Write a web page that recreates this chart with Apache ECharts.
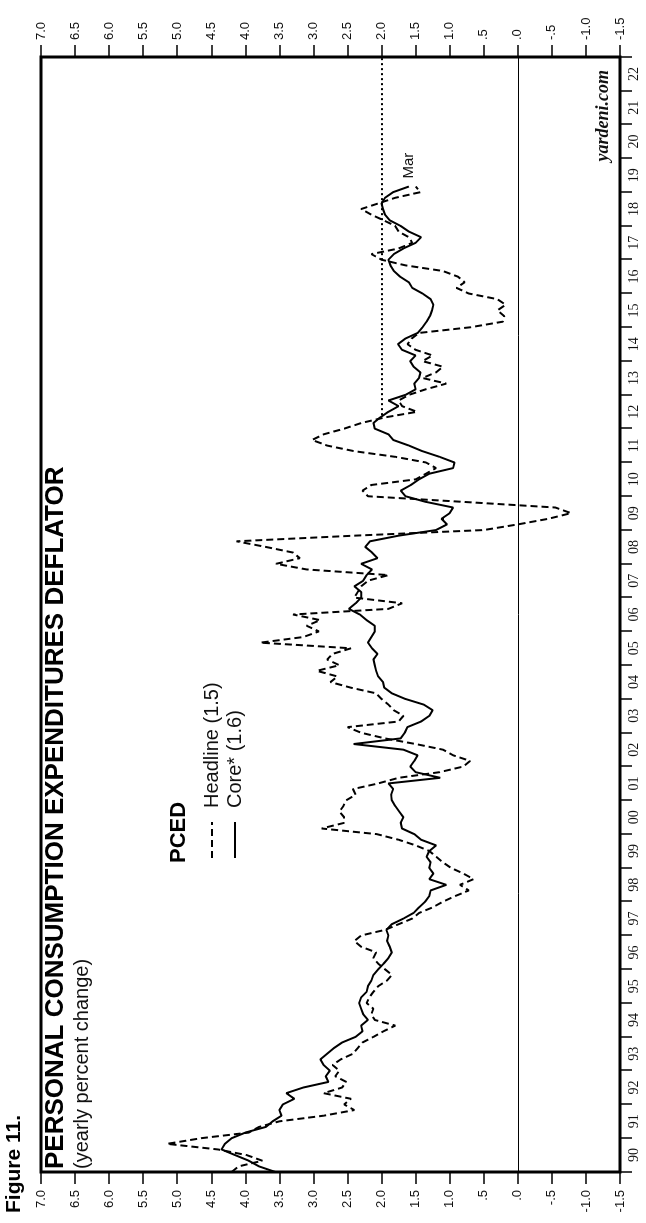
<!DOCTYPE html>
<html>
<head>
<meta charset="utf-8">
<title>PCED</title>
<script src="https://cdn.jsdelivr.net/npm/echarts@6/dist/echarts.min.js"></script>
<style>
  html, body { margin: 0; padding: 0; background: #fff; }
  #page { position: relative; width: 646px; height: 1223px; overflow: hidden; }
  /* chart is drawn landscape and turned a quarter to the left, like the scanned page */
  #chart {
    position: absolute; left: 0; top: 0;
    width: 1223px; height: 646px;
    transform-origin: 0 0;
    transform: translateY(1223px) rotate(-90deg);
  }
</style>
</head>
<body>
<div id="page"><div id="chart"></div></div>
<script>
// first reading is Jan 1990, then one every second month up to Mar 2019
const startYear = 1990;
const stepsPerYear = 6;

const yearLabels = ['90', '91', '92', '93', '94', '95', '96', '97', '98', '99',
  '00', '01', '02', '03', '04', '05', '06', '07', '08', '09', '10', '11',
  '12', '13', '14', '15', '16', '17', '18', '19', '20', '21', '22'];

const headline = [
  4.2, 4.1, 3.75, 3.98, 4.4, 5.15,
  4.65, 3.95, 3.8, 3.5, 2.85, 2.4,
  2.55, 2.45, 2.85, 2.58, 2.52, 2.68,
  2.62, 2.72, 2.6, 2.42, 2.35, 2.28,
  2.12, 1.97, 1.8, 2.1, 2.15, 2.12,
  2.22, 2.18, 2.12, 2.05, 1.92, 1.85,
  1.95, 2.05, 2.12, 2.08, 2.3, 2.4,
  2.3, 1.95, 1.75, 1.55, 1.45, 1.25,
  1.1, 0.92, 0.72, 0.85, 0.65, 0.8,
  0.98, 1.1, 1.2, 1.3, 1.5, 1.75,
  2.07, 2.88, 2.55, 2.55, 2.62, 2.56,
  2.52, 2.38, 2.42, 2.05, 1.75, 1.15,
  0.8, 0.7, 0.95, 1.1, 1.5, 1.95,
  2.3, 2.5, 1.75, 1.68, 1.82, 1.9,
  2.0, 2.08, 2.45, 2.75, 2.65, 2.95,
  2.62, 2.8, 2.72, 2.45, 3.78, 3.15,
  2.92, 3.1, 2.9, 3.3, 1.9, 1.7,
  2.4, 2.35, 2.3, 2.2, 1.9, 3.1,
  3.55, 3.2, 3.3, 3.7, 4.13, 2.4,
  0.5, 0.0, -0.45, -0.78, -0.55, 0.8,
  2.2, 2.28, 2.15, 1.5, 1.35, 1.2,
  1.35, 1.8, 2.4, 2.8, 3.02, 2.85,
  2.55, 2.3, 1.95, 1.48, 1.7, 1.75,
  1.6, 1.35, 1.05, 1.4, 1.2, 1.1,
  1.4, 1.25, 1.5, 1.62, 1.56, 1.45,
  0.7, 0.22, 0.2, 0.3, 0.18, 0.3,
  0.72, 0.9, 0.78, 0.88, 1.1, 1.65,
  2.0, 2.15, 1.75, 1.55, 1.6, 1.75,
  1.8, 1.97, 2.15, 2.3, 2.05, 1.8,
  1.43, 1.5
];

const core = [
  3.56, 3.8, 3.95, 4.15, 4.35, 4.3,
  4.2, 4.0, 3.7, 3.6, 3.47, 3.5,
  3.45, 3.28, 3.4, 3.15, 2.78, 2.82,
  2.76, 2.85, 2.9, 2.8, 2.7, 2.58,
  2.38, 2.28, 2.3, 2.2, 2.27, 2.3,
  2.33, 2.3, 2.22, 2.2, 2.15, 2.12,
  2.05, 1.97, 1.9, 1.85, 1.88, 1.92,
  1.9, 1.93, 1.85, 1.68, 1.53, 1.45,
  1.36, 1.3, 1.28, 1.05, 1.3, 1.24,
  1.3, 1.28, 1.34, 1.3, 1.2, 1.42,
  1.52, 1.7, 1.72, 1.68, 1.74, 1.8,
  1.85, 1.86, 1.83, 1.9, 1.14, 1.5,
  1.58, 1.52, 1.47, 1.68, 2.41, 1.72,
  1.66, 1.62, 1.42, 1.3, 1.25, 1.38,
  1.65, 1.85, 1.96, 1.98, 2.05, 2.08,
  2.1, 2.12, 2.06, 2.14, 2.2, 2.15,
  2.1, 2.1, 2.22, 2.32, 2.48, 2.38,
  2.3, 2.3, 2.4, 2.27, 2.22, 2.14,
  2.3, 2.06, 2.14, 2.24, 2.17, 1.75,
  1.2, 1.04, 1.12, 1.0, 0.95, 1.35,
  1.65, 1.72, 1.57, 1.45, 1.3, 0.95,
  0.93, 1.15, 1.4, 1.6, 1.83, 1.9,
  2.1, 2.12, 2.02, 1.9, 1.75, 1.9,
  1.65, 1.5, 1.52, 1.45, 1.43, 1.53,
  1.58, 1.5, 1.7, 1.76, 1.65, 1.47,
  1.4, 1.34, 1.29, 1.26, 1.24, 1.28,
  1.4, 1.55, 1.6, 1.73, 1.82, 1.87,
  1.9, 1.82, 1.68, 1.5, 1.42, 1.6,
  1.72, 1.88, 1.95, 1.98, 2.0, 1.95,
  1.83, 1.6
];

// Fed target line (dotted) and the zero line
const targetValue = 2.0;
const targetFrom = 2012.4;

// legend keys: thin strips, dashed and solid
const dashedKey = 'path://M0,0H7V2H0Z M11,0H18V2H11Z M22,0H29V2H22Z M33,0H36V2H33Z';
const solidKey = 'path://M0,0H36V2H0Z';

const withDates = (vals) => vals.map((v, i) => [startYear + i / stepsPerYear, v]);

const fmtPct = (v) => {
  let s = v.toFixed(1);
  if (Math.abs(v) < 1) s = s.replace('0.', '.');
  return s;
};

const chart = echarts.init(document.getElementById('chart'), null, { renderer: 'canvas' });

const valueAxis = (pos, margin) => ({
  type: 'value',
  position: pos,
  min: -1.5,
  max: 7,
  interval: 0.5,
  axisLine: { show: false },
  splitLine: { show: false },
  axisTick: { show: true, length: 12, lineStyle: { color: '#000', width: 1.5 } },
  axisLabel: {
    margin: margin,
    formatter: fmtPct,
    fontFamily: 'Liberation Sans',
    fontSize: 13,
    color: '#111'
  }
});

const option = {
  animation: false,
  backgroundColor: '#fff',
  textStyle: { fontFamily: 'Liberation Sans' },
  title: [
    {
      text: 'Figure 11.',
      left: 10,
      top: 4,
      padding: 0,
      textStyle: { fontSize: 21, fontWeight: 'bold', color: '#000' }
    },
    {
      text: 'PERSONAL CONSUMPTION EXPENDITURES DEFLATOR',
      subtext: '(yearly percent change)',
      left: 54,
      top: 43,
      padding: 0,
      itemGap: 3,
      textStyle: { fontSize: 26, fontWeight: 'bold', color: '#000' },
      subtextStyle: { fontSize: 20, color: '#111' }
    }
  ],
  legend: {
    orient: 'vertical',
    left: 360,
    top: 197,
    itemWidth: 36,
    itemHeight: 2,
    itemGap: 3,
    textStyle: { fontSize: 20, color: '#111', padding: [0, 0, 0, 9] },
    data: [
      { name: 'Headline (1.5)', icon: dashedKey },
      { name: 'Core* (1.6)', icon: solidKey }
    ]
  },
  graphic: [
    {
      type: 'text',
      left: 360,
      top: 168,
      style: { text: 'PCED', font: 'bold 22px "Liberation Sans"', fill: '#000' }
    },
    {
      type: 'text',
      right: 70,
      top: 594,
      style: {
        text: 'yardeni.com',
        font: 'italic bold 18px "Liberation Serif"',
        fill: '#111'
      }
    }
  ],
  grid: {
    left: 51,
    right: 57,
    top: 41,
    bottom: 26,
    show: true,
    borderColor: '#000',
    borderWidth: 3
  },
  xAxis: [
    { type: 'value', min: 1990, max: 2023, show: false },
    {
      type: 'category',
      data: yearLabels,
      position: 'bottom',
      boundaryGap: true,
      axisLine: { show: false, onZero: false },
      splitLine: { show: false },
      axisTick: { show: true, interval: 0, length: 12, lineStyle: { color: '#000', width: 1.5 } },
      axisLabel: {
        interval: 0,
        margin: 7,
        fontFamily: 'Liberation Serif',
        fontSize: 14,
        color: '#111'
      }
    }
  ],
  yAxis: [valueAxis('left', 18), valueAxis('right', 17)],
  series: [
    {
      name: 'Headline (1.5)',
      type: 'line',
      xAxisIndex: 0,
      yAxisIndex: 0,
      symbol: 'none',
      lineStyle: { color: '#000', width: 2, type: [7, 4] },
      itemStyle: { color: '#000' },
      data: withDates(headline)
    },
    {
      name: 'Core* (1.6)',
      type: 'line',
      xAxisIndex: 0,
      yAxisIndex: 0,
      symbol: 'none',
      lineStyle: { color: '#000', width: 2 },
      itemStyle: { color: '#000' },
      endLabel: {
        show: true,
        formatter: 'Mar',
        distance: 8,
        fontFamily: 'Liberation Sans',
        fontSize: 15,
        color: '#111'
      },
      markLine: {
        silent: true,
        symbol: 'none',
        label: { show: false },
        data: [
          [
            { coord: [1990, 0], lineStyle: { color: '#000', width: 1, type: 'solid' } },
            { coord: [2023, 0] }
          ],
          [
            { coord: [targetFrom, targetValue], lineStyle: { color: '#000', width: 2, type: [2, 3] } },
            { coord: [2023, targetValue] }
          ]
        ]
      },
      data: withDates(core)
    }
  ]
};

chart.setOption(option);
</script>
</body>
</html>
